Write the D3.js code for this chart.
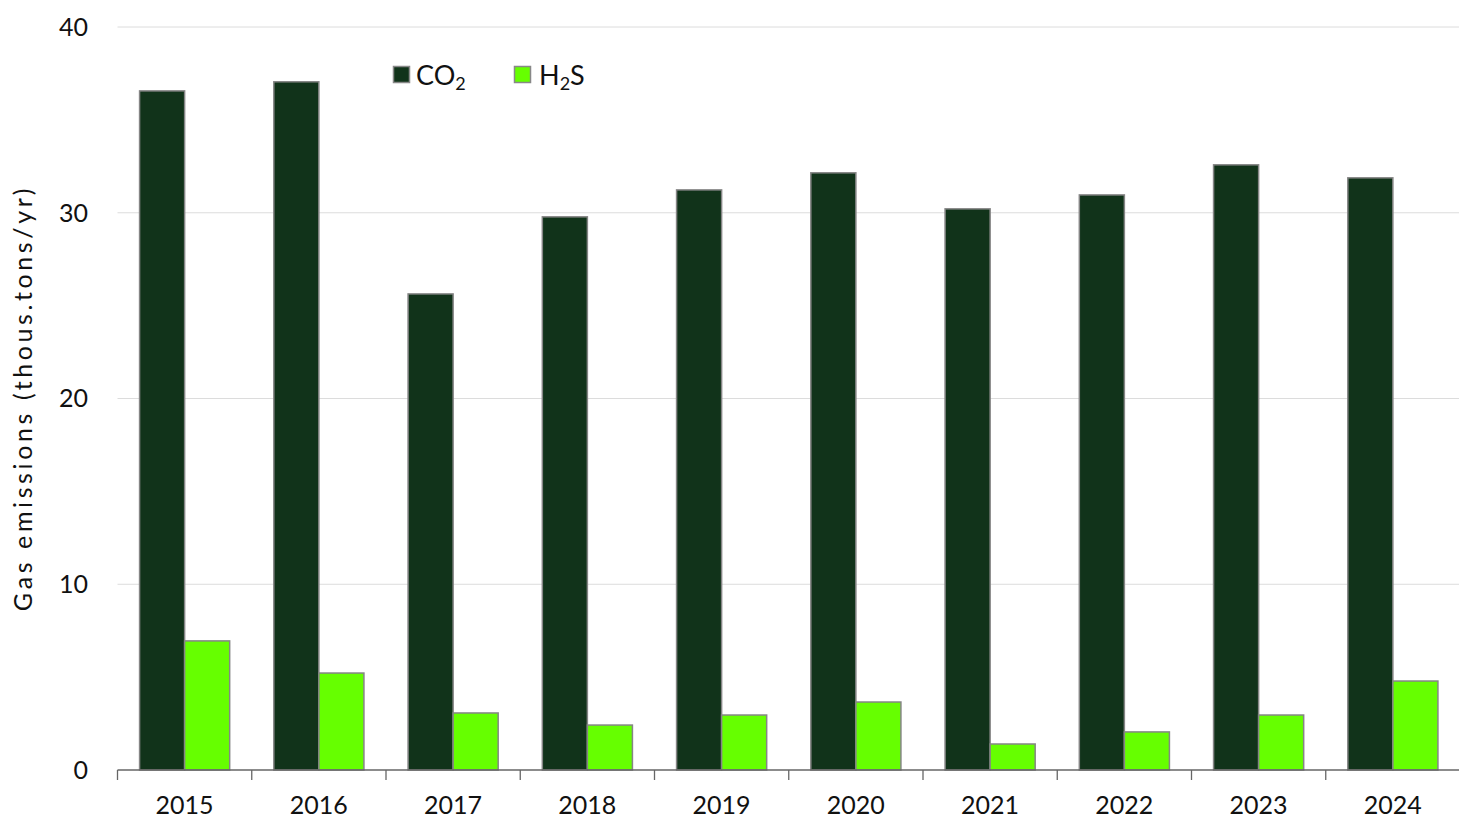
<!DOCTYPE html>
<html><head><meta charset="utf-8">
<script src="https://cdn.jsdelivr.net/npm/d3@7"></script>
<style>body{margin:0;background:#fff}svg{display:block}text{font-family:"Lato","Open Sans",sans-serif;fill:#111}</style>
</head><body><svg id="c" width="1459" height="820"></svg>
<script>
const years = ["2015","2016","2017","2018","2019","2020","2021","2022","2023","2024"];
const co2 = [36.56,37.05,25.63,29.78,31.23,32.15,30.21,30.96,32.58,31.88];
const h2s = [6.95,5.22,3.07,2.42,2.96,3.66,1.40,2.05,2.96,4.79];
const yTicks = [0,10,20,30,40];
const colors = {co2:"#11331a", h2s:"#66ff00"};

(function(){
const svg = d3.select("#c");
const pL = 117.5, pR = 1460, pT = 27, pB = 770;
const x = d3.scaleBand().domain(years).range([pL, pR]).paddingInner(0).paddingOuter(0);
const y = d3.scaleLinear().domain([0,40]).range([pB, pT]);
const inner = d3.scaleBand().domain(["co2","h2s"]).range([0, x.bandwidth()]).paddingOuter(0.49).paddingInner(0);

// gridlines
svg.append("g").selectAll("line").data(yTicks.filter(d=>d>0)).join("line")
  .attr("x1", pL).attr("x2", 1459).attr("y1", d=>y(d)).attr("y2", d=>y(d))
  .attr("stroke","#dcdcdc").attr("stroke-width",1);

// y tick labels
svg.append("g").selectAll("text").data(yTicks).join("text")
  .attr("x", 88).attr("y", d=>y(d)).attr("dy","0.35em").attr("text-anchor","end")
  .attr("font-size",25).text(d=>d);

// y title
svg.append("text").attr("transform","translate(32,398) rotate(-90)")
  .attr("text-anchor","middle").attr("font-size",25).attr("letter-spacing","3.6px")
  .text("Gas emissions (thous.tons/yr)");

// bars
const g = svg.append("g");
const series = [["co2",co2],["h2s",h2s]];
series.forEach(([key, vals])=>{
  g.append("g").selectAll("rect").data(years).join("rect")
    .attr("x", (d)=>x(d)+inner(key))
    .attr("width", inner.bandwidth())
    .attr("y", (d,i)=>y(vals[i]))
    .attr("height", (d,i)=>pB - y(vals[i]))
    .attr("fill", colors[key]).attr("stroke","#858585").attr("stroke-width",1.5);
});

// x axis
const xa = svg.append("g");
xa.append("line").attr("x1",pL).attr("x2",1459).attr("y1",pB).attr("y2",pB).attr("stroke","#666").attr("stroke-width",1.3);
xa.selectAll("line.t").data(years).join("line").attr("class","t")
  .attr("x1",d=>x(d)).attr("x2",d=>x(d)).attr("y1",pB).attr("y2",pB+10)
  .attr("stroke","#666").attr("stroke-width",1.3);
xa.selectAll("text").data(years).join("text")
  .attr("x",d=>x(d)+x.bandwidth()/2).attr("y",814).attr("text-anchor","middle")
  .attr("font-size",25).text(d=>d);

// legend
const lg = svg.append("g");
lg.append("rect").attr("x",393.5).attr("y",66.5).attr("width",16).attr("height",16).attr("fill",colors.co2).attr("stroke","#888").attr("stroke-width",1.5);
const t1 = lg.append("text").attr("x",416).attr("y",85).attr("font-size",27);
t1.append("tspan").text("CO");
t1.append("tspan").attr("font-size",18).attr("dy",5).text("2");
lg.append("rect").attr("x",514.5).attr("y",66.5).attr("width",16).attr("height",16).attr("fill",colors.h2s).attr("stroke","#888").attr("stroke-width",1.5);
const t2 = lg.append("text").attr("x",539).attr("y",85).attr("font-size",27);
t2.append("tspan").text("H");
t2.append("tspan").attr("font-size",18).attr("dy",5).text("2");
t2.append("tspan").attr("dy",-5).text("S");
})();
</script></body></html>
